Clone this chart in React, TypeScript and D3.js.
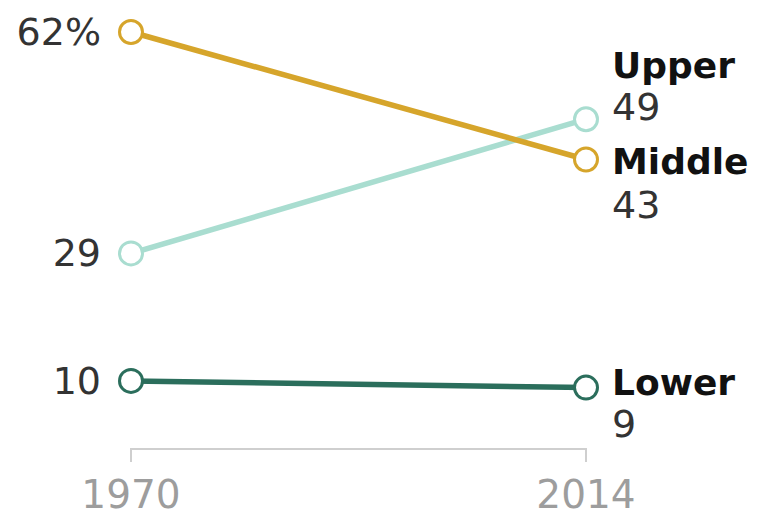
import { useEffect, useRef } from 'react'
import * as d3 from 'd3'

const years = ['1970', '2014']
const classes = ['Upper', 'Middle', 'Lower']
const startValues = [29, 62, 10]
const endValues = [49, 43, 9]
const startLabels = ['29', '62%', '10']
const endLabels = ['49', '43', '9']

const COLORS = ['#a9ddd0', '#d6a52b', '#2b6e5c']
// hand placed label offsets (name baseline, value baseline) relative to end point
const LABEL_OFFSETS: [number, number][] = [[-41, 1], [15, 59], [7, 49]]

export default function App() {
  const svgRef = useRef<SVGSVGElement>(null)

  useEffect(() => {
    if (!svgRef.current) return
    const width = 757
    const height = 512
    const svg = d3.select(svgRef.current)
    svg.selectAll('*').remove()
    svg.attr('width', width).attr('height', height)

    const x = d3.scalePoint<string>().domain(years).range([131, 586])
    const y = d3.scaleLinear().domain([0, 62]).range([448, 32])
    const font = '"DejaVu Sans", sans-serif'

    // Bracket axis
    const x0 = x(years[0])!
    const x1 = x(years[1])!
    svg.append('path')
      .attr('d', `M${x0},462V449H${x1}V462`)
      .attr('fill', 'none')
      .attr('stroke', '#cfcfcf')
      .attr('stroke-width', 2)

    svg.selectAll('text.year')
      .data(years)
      .enter().append('text')
      .attr('class', 'year')
      .attr('x', d => x(d)!)
      .attr('y', 508)
      .attr('text-anchor', 'middle')
      .attr('font-family', font)
      .attr('font-size', 39)
      .attr('fill', '#9d9d9d')
      .text(d => d)

    // Lines
    classes.forEach((c, i) => {
      const pts: [number, number][] = [
        [x0, y(startValues[i])],
        [x1, y(endValues[i])],
      ]
      svg.append('path')
        .attr('d', d3.line()(pts))
        .attr('stroke', COLORS[i])
        .attr('stroke-width', 5.5)
        .attr('fill', 'none')
    })

    // Points
    classes.forEach((c, i) => {
      ;[[x0, startValues[i]], [x1, endValues[i]]].forEach(([px, v]) => {
        svg.append('circle')
          .attr('cx', px)
          .attr('cy', y(v))
          .attr('r', 11.5)
          .attr('fill', '#fff')
          .attr('stroke', COLORS[i])
          .attr('stroke-width', 3)
      })
    })

    // Start value labels
    classes.forEach((c, i) => {
      svg.append('text')
        .attr('x', 101)
        .attr('y', y(startValues[i]) + 13)
        .attr('text-anchor', 'end')
        .attr('font-family', font)
        .attr('font-size', 38)
        .attr('fill', '#333')
        .text(startLabels[i])
    })

    // End labels
    classes.forEach((c, i) => {
      const ey = y(endValues[i])
      svg.append('text')
        .attr('x', 612)
        .attr('y', ey + LABEL_OFFSETS[i][0])
        .attr('font-family', font)
        .attr('font-weight', 'bold')
        .attr('font-size', 36)
        .attr('fill', '#111')
        .text(c)
      svg.append('text')
        .attr('x', 612)
        .attr('y', ey + LABEL_OFFSETS[i][1])
        .attr('font-family', font)
        .attr('font-size', 38)
        .attr('fill', '#333')
        .text(endLabels[i])
    })
  }, [])

  return (
    <svg
      ref={svgRef}
      style={{ position: 'absolute', left: 0, top: 0, display: 'block', background: '#fff' }}
    />
  )
}
